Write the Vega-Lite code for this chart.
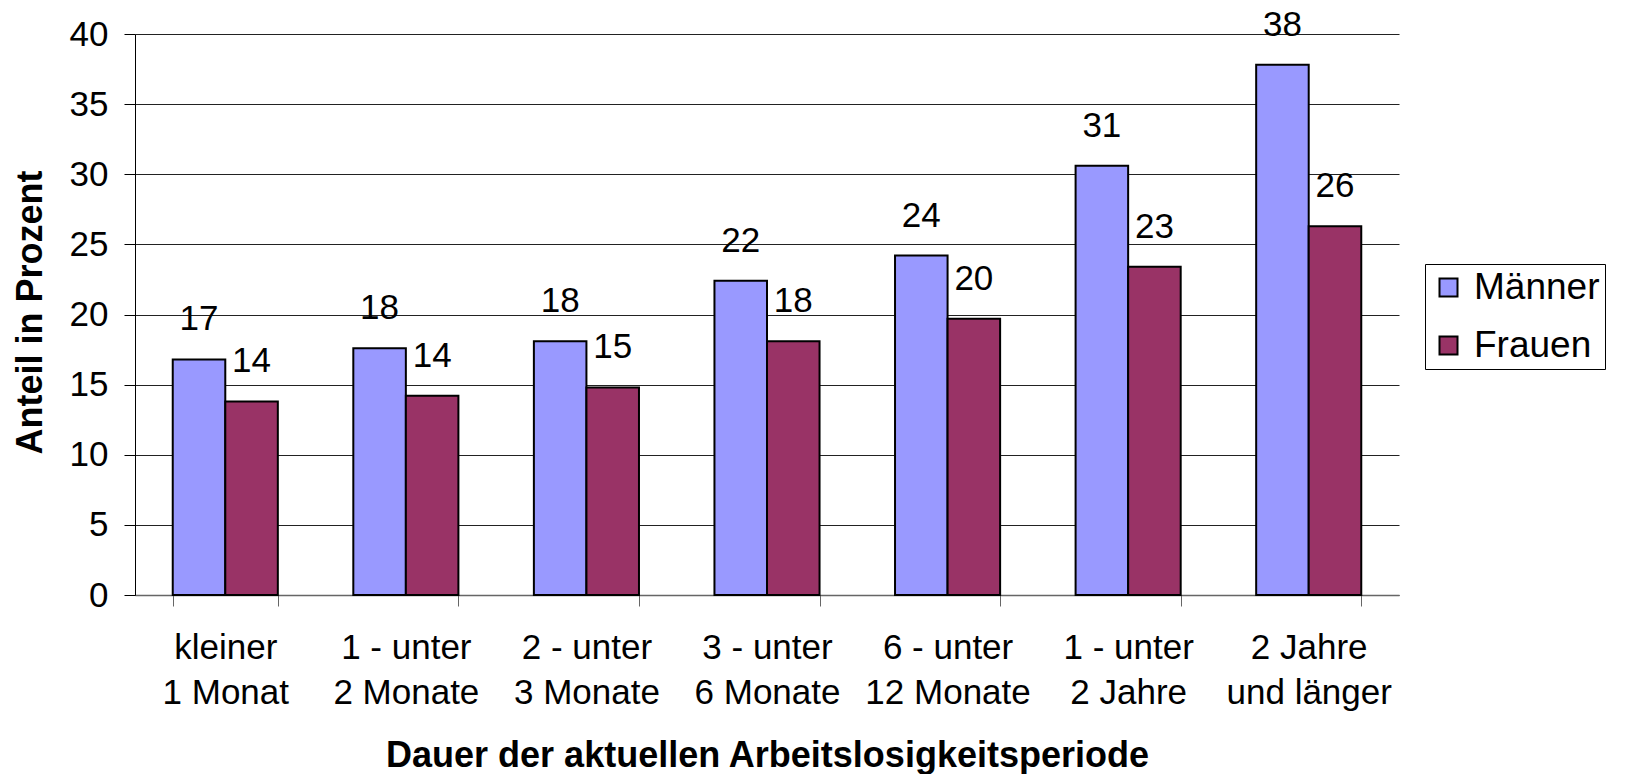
{
  "$schema": "https://vega.github.io/schema/vega-lite/v6.json",
  "width": 1264,
  "height": 561,
  "autosize": {"type": "none"},
  "padding": {"left": 135, "top": 34, "right": 229, "bottom": 179},
  "background": "white",
  "config": {"view": {"stroke": null}, "font": "Liberation Sans"},
  "data": {
    "values": [
      {"dauer": "kleiner\n1 Monat", "geschlecht": "Männer", "anteil": 16.8},
      {"dauer": "kleiner\n1 Monat", "geschlecht": "Frauen", "anteil": 13.8},
      {"dauer": "1 - unter\n2 Monate", "geschlecht": "Männer", "anteil": 17.6},
      {"dauer": "1 - unter\n2 Monate", "geschlecht": "Frauen", "anteil": 14.2},
      {"dauer": "2 - unter\n3 Monate", "geschlecht": "Männer", "anteil": 18.1},
      {"dauer": "2 - unter\n3 Monate", "geschlecht": "Frauen", "anteil": 14.8},
      {"dauer": "3 - unter\n6 Monate", "geschlecht": "Männer", "anteil": 22.4},
      {"dauer": "3 - unter\n6 Monate", "geschlecht": "Frauen", "anteil": 18.1},
      {"dauer": "6 - unter\n12 Monate", "geschlecht": "Männer", "anteil": 24.2},
      {"dauer": "6 - unter\n12 Monate", "geschlecht": "Frauen", "anteil": 19.7},
      {"dauer": "1 - unter\n2 Jahre", "geschlecht": "Männer", "anteil": 30.6},
      {"dauer": "1 - unter\n2 Jahre", "geschlecht": "Frauen", "anteil": 23.4},
      {"dauer": "2 Jahre\nund länger", "geschlecht": "Männer", "anteil": 37.8},
      {"dauer": "2 Jahre\nund länger", "geschlecht": "Frauen", "anteil": 26.3}
    ]
  },
  "encoding": {
    "x": {
      "field": "dauer",
      "type": "nominal",
      "sort": null,
      "scale": {"paddingInner": 0.418, "paddingOuter": 0.209},
      "axis": {
        "title": "Dauer der aktuellen Arbeitslosigkeitsperiode",
        "titleFontSize": 36,
        "titleFontWeight": "bold",
        "titleColor": "black",
        "titleY": 160,
        "titleBaseline": "middle",
        "labelFontSize": 35,
        "labelColor": "black",
        "labelAngle": 0,
        "labelLineHeight": 45,
        "labelBaseline": "top",
        "labelPadding": 24,
        "labelLimit": 400,
        "labelExpr": "split(datum.label, '\\n')",
        "tickBand": "extent",
        "tickSize": 11,
        "tickColor": "#666666",
        "domainColor": "#666666",
        "domainWidth": 1.5,
        "grid": false
      }
    },
    "xOffset": {"field": "geschlecht", "type": "nominal", "sort": ["Männer", "Frauen"]},
    "y": {
      "field": "anteil",
      "type": "quantitative",
      "scale": {"domain": [0, 40]},
      "axis": {
        "values": [0, 5, 10, 15, 20, 25, 30, 35, 40],
        "title": "Anteil in Prozent",
        "titleFontSize": 36,
        "titleFontWeight": "bold",
        "titleColor": "black",
        "titleX": -105,
        "titleY": 278,
        "titleAngle": 270,
        "titleAlign": "center",
        "titleBaseline": "middle",
        "labelFontSize": 35,
        "labelColor": "black",
        "labelPadding": 16,
        "tickSize": 11,
        "tickColor": "black",
        "domainColor": "black",
        "grid": true,
        "gridColor": "#222222",
        "gridWidth": 1
      }
    }
  },
  "layer": [
    {
      "mark": {"type": "bar", "stroke": "black", "strokeWidth": 2},
      "encoding": {
        "color": {
          "field": "geschlecht",
          "type": "nominal",
          "scale": {"domain": ["Männer", "Frauen"], "range": ["#9999FF", "#993366"]},
          "legend": {
            "orient": "none",
            "legendX": 1290,
            "legendY": 230,
            "title": null,
            "labelFontSize": 37,
            "labelColor": "black",
            "symbolType": "square",
            "symbolSize": 324,
            "symbolStrokeColor": "black",
            "symbolStrokeWidth": 2,
            "strokeColor": "black",
            "fillColor": "white",
            "padding": 5,
            "rowPadding": 20,
            "labelOffset": 7
          }
        }
      }
    },
    {
      "mark": {"type": "text", "dy": -29, "baseline": "alphabetic", "fontSize": 35, "color": "black"},
      "encoding": {
        "text": {"field": "anteil", "type": "quantitative", "format": ".0f"}
      }
    }
  ]
}
